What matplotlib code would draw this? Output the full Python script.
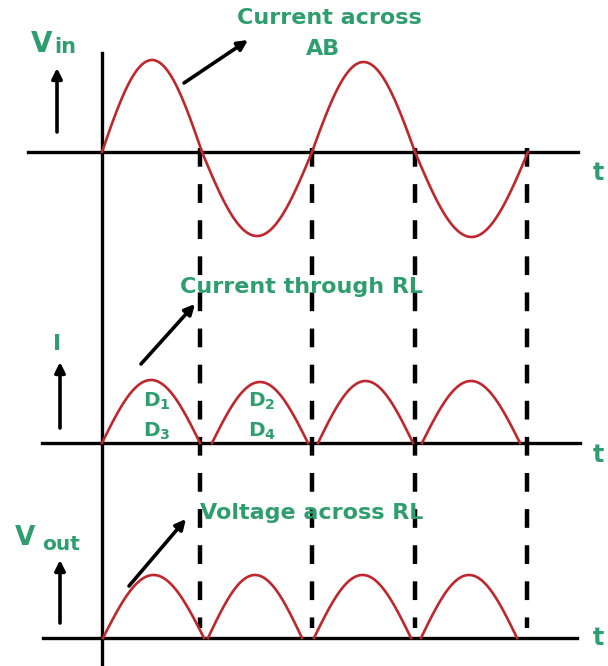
import numpy as np
import matplotlib
matplotlib.use("Agg")
import matplotlib.pyplot as plt

plt.rcParams['mathtext.fontset'] = 'dejavusans'
plt.rcParams['lines.scale_dashes'] = False

# ---- data (diagram units = pixels) ----
vin_crossings = [102, 202, 312, 415, 528]       # zero crossings of Vin
vin_amps = [92, -84, 90, -85]                    # half-cycle amplitudes
i_humps = [(102, 200), (212, 308), (318, 413), (422, 520)]
i_amps = [63, 61, 62, 62]
vout_humps = [(103, 204), (208, 302), (314, 411), (421, 517)]
vout_amps = [63, 63, 63, 63]
period_marks = [200, 312, 415, 527]              # dashed vertical lines
diode_labels = [("D_1", "D_3"), ("D_2", "D_4")]

# panel baselines (layout)
base_top, base_mid, base_bot = 152, 443, 638

RED = "#c0262d"
GREEN = "#2f9e6e"

fig = plt.figure(figsize=(6.08, 6.66), dpi=100)
ax = fig.add_axes([0, 0, 1, 1])
ax.set_xlim(0, 608)
ax.set_ylim(666, 0)
ax.axis("off")


def half_sine(x0, x1, amp, base):
    x = np.linspace(x0, x1, 80)
    y = base - amp * np.sin(np.pi * (x - x0) / (x1 - x0))
    return x, y


# dashed period lines
for xm in period_marks:
    ax.plot([xm, xm], [148, 628], color="black", lw=3.2,
            dashes=(13.5, 12.5), zorder=2)

# axes lines
ax.plot([28, 578], [base_top, base_top], color="black", lw=2.4, zorder=3)
ax.plot([42, 580], [base_mid, base_mid], color="black", lw=2.4, zorder=3)
ax.plot([43, 577], [base_bot, base_bot], color="black", lw=2.4, zorder=3)
ax.plot([102, 102], [53, 666], color="black", lw=2.4, zorder=3)

# Vin sine
for k, amp in enumerate(vin_amps):
    x, y = half_sine(vin_crossings[k], vin_crossings[k + 1], amp, base_top)
    ax.plot(x, y, color=RED, lw=1.9, zorder=4)

# current humps
for (x0, x1), amp in zip(i_humps, i_amps):
    x, y = half_sine(x0, x1, amp, base_mid)
    ax.plot(x, y, color=RED, lw=1.9, zorder=4)

# output voltage humps
for (x0, x1), amp in zip(vout_humps, vout_amps):
    x, y = half_sine(x0, x1, amp, base_bot)
    ax.plot(x, y, color=RED, lw=1.9, zorder=4)

# arrows
arrow_kw = dict(arrowstyle="-|>", color="black", lw=2.6, mutation_scale=15,
                shrinkA=0, shrinkB=0)
for (x0, y0, x1, y1) in [(57, 132, 57, 68), (60, 428, 60, 362), (60, 623, 60, 560),
                         (184, 83, 248, 40), (141, 364, 195, 304), (129, 586, 186, 519)]:
    ax.annotate("", xy=(x1, y1), xytext=(x0, y0), arrowprops=arrow_kw, zorder=5)

# texts
tk = dict(color=GREEN, fontweight="bold", family="DejaVu Sans")
ax.text(31, 52, "V", fontsize=20, ha="left", va="baseline", **tk)
ax.text(54, 53, "in", fontsize=15, ha="left", va="baseline", **tk)
ax.text(15, 545, "V", fontsize=19, ha="left", va="baseline", **tk)
ax.text(42, 550, "out", fontsize=14.5, ha="left", va="baseline", **tk)
ax.text(57, 350, "I", fontsize=16, ha="center", va="baseline", **tk)
ax.text(329, 24, "Current across", fontsize=16, ha="center", va="baseline", **tk)
ax.text(323, 55, "AB", fontsize=16, ha="center", va="baseline", **tk)
ax.text(180, 293, "Current through RL", fontsize=16, ha="left", va="baseline", **tk)
ax.text(200, 519, "Voltage across RL", fontsize=16, ha="left", va="baseline", **tk)
for yy in [180, 462, 645]:
    ax.text(593, yy, "t", fontsize=17, ha="left", va="baseline", **tk)

for (top, bot), xc in zip(diode_labels, [157, 262]):
    ax.text(xc, 407, r"$\mathbf{%s}$" % top, fontsize=14.5, ha="center", va="baseline", color=GREEN)
    ax.text(xc, 437, r"$\mathbf{%s}$" % bot, fontsize=14.5, ha="center", va="baseline", color=GREEN)

fig.savefig("out.png", dpi=100)
